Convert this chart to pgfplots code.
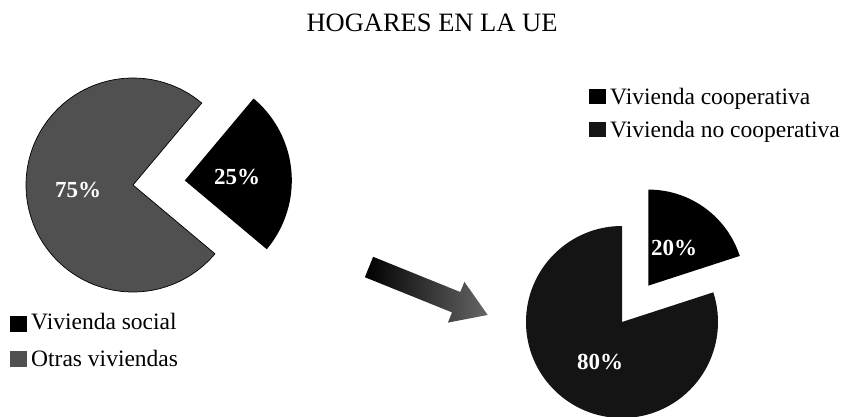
\documentclass[border=0pt]{standalone}
\usepackage{pgfplots}
\pgfplotsset{compat=1.18}
\usepackage{pgfplotstable}
\usepackage{fontspec}
\setmainfont{Liberation Serif}
\usetikzlibrary{calc}

\pgfplotstableread{
cat value
social 25
otras 75
}\hogares
\pgfplotstableread{
cat value
coop 20
nocoop 80
}\sociales

\definecolor{dgrey}{HTML}{505050}
\definecolor{nblack}{HTML}{141414}

\begin{document}
\begin{tikzpicture}
\pgfplotstablegetelem{0}{value}\of\hogares \edef\vA{\pgfplotsretval}
\pgfplotstablegetelem{1}{value}\of\hogares \edef\vB{\pgfplotsretval}
\pgfplotstablegetelem{0}{value}\of\sociales \edef\vC{\pgfplotsretval}
\pgfplotstablegetelem{1}{value}\of\sociales \edef\vD{\pgfplotsretval}
% left pie angles
\pgfmathsetmacro\sA{-40}
\pgfmathsetmacro\eA{\sA+3.6*\vA}
\pgfmathsetmacro\eB{\eA+3.6*\vB}
\pgfmathsetmacro\mA{(\sA+\eA)/2}
% right pie angles
\pgfmathsetmacro\eC{90}
\pgfmathsetmacro\sC{\eC-3.6*\vC}
\pgfmathsetmacro\eD{\eC+3.6*\vD}
\pgfmathsetmacro\mC{(\sC+\eC)/2}
\begin{axis}[hide axis, scale only axis, width=849pt, height=416pt,
  xmin=0, xmax=849, ymin=0, ymax=416, clip=false]
\coordinate (bl) at (axis cs:0,0);
\coordinate (tr) at (axis cs:849,416);
% title
\node[anchor=base, font=\fontsize{26.5}{26.5}\selectfont] at (axis cs:432,384) {HOGARES EN LA UE};
% left pie
\filldraw[fill=dgrey, draw=black, line width=0.7pt] (axis cs:133,231) -- ++(\eA:107pt) arc[start angle=\eA, end angle=\eB, radius=107pt] -- cycle;
\fill[black] ($(axis cs:133,231)+(\mA:52pt)$) -- ++(\sA:107pt) arc[start angle=\sA, end angle=\eA, radius=107pt] -- cycle;
\node[white, font=\bfseries\fontsize{23}{23}\selectfont] at (axis cs:78,226) {\vB\%};
\node[white, font=\bfseries\fontsize{23}{23}\selectfont] at (axis cs:237,239) {\vA\%};
% right pie
\fill[nblack] (axis cs:622,94) -- ++(\eC:96pt) arc[start angle=\eC, end angle=\eD, radius=96pt] -- cycle;
\fill[black] ($(axis cs:622,94)+(\mC:45pt)$) -- ++(\sC:96pt) arc[start angle=\sC, end angle=\eC, radius=96pt] -- cycle;
\node[white, font=\bfseries\fontsize{23}{23}\selectfont] at (axis cs:674,168) {\vC\%};
\node[white, font=\bfseries\fontsize{23}{23}\selectfont] at (axis cs:600,54) {\vD\%};
% arrow
\begin{scope}[shift={(axis cs:369,149)}, rotate=-22]
\shade[left color=black, middle color=black!90, right color=black!60]
  (0pt,-11pt) -- (94pt,-11pt) -- (94pt,-22pt) -- (128pt,0pt) -- (94pt,22pt) -- (94pt,11pt) -- (0pt,11pt) -- cycle;
\end{scope}
% left legend
\fill[black] (axis cs:10,84) rectangle (axis cs:27,100);
\node[anchor=base west, inner sep=0pt, font=\fontsize{23.5}{23.5}\selectfont] at (axis cs:31,87) {Vivienda social};
\fill[dgrey] (axis cs:10,49) rectangle (axis cs:27,65);
\node[anchor=base west, inner sep=0pt, font=\fontsize{23.5}{23.5}\selectfont] at (axis cs:31,50) {Otras viviendas};
% right legend
\fill[black] (axis cs:589,312) rectangle (axis cs:606,327);
\node[anchor=base west, inner sep=0pt, font=\fontsize{23.5}{23.5}\selectfont] at (axis cs:610,312) {Vivienda cooperativa};
\fill[nblack] (axis cs:589,279) rectangle (axis cs:606,294);
\node[anchor=base west, inner sep=0pt, font=\fontsize{23.5}{23.5}\selectfont] at (axis cs:610,279) {Vivienda no cooperativa};
\end{axis}
\pgfresetboundingbox
\path (bl) rectangle (tr);
\end{tikzpicture}
\end{document}
